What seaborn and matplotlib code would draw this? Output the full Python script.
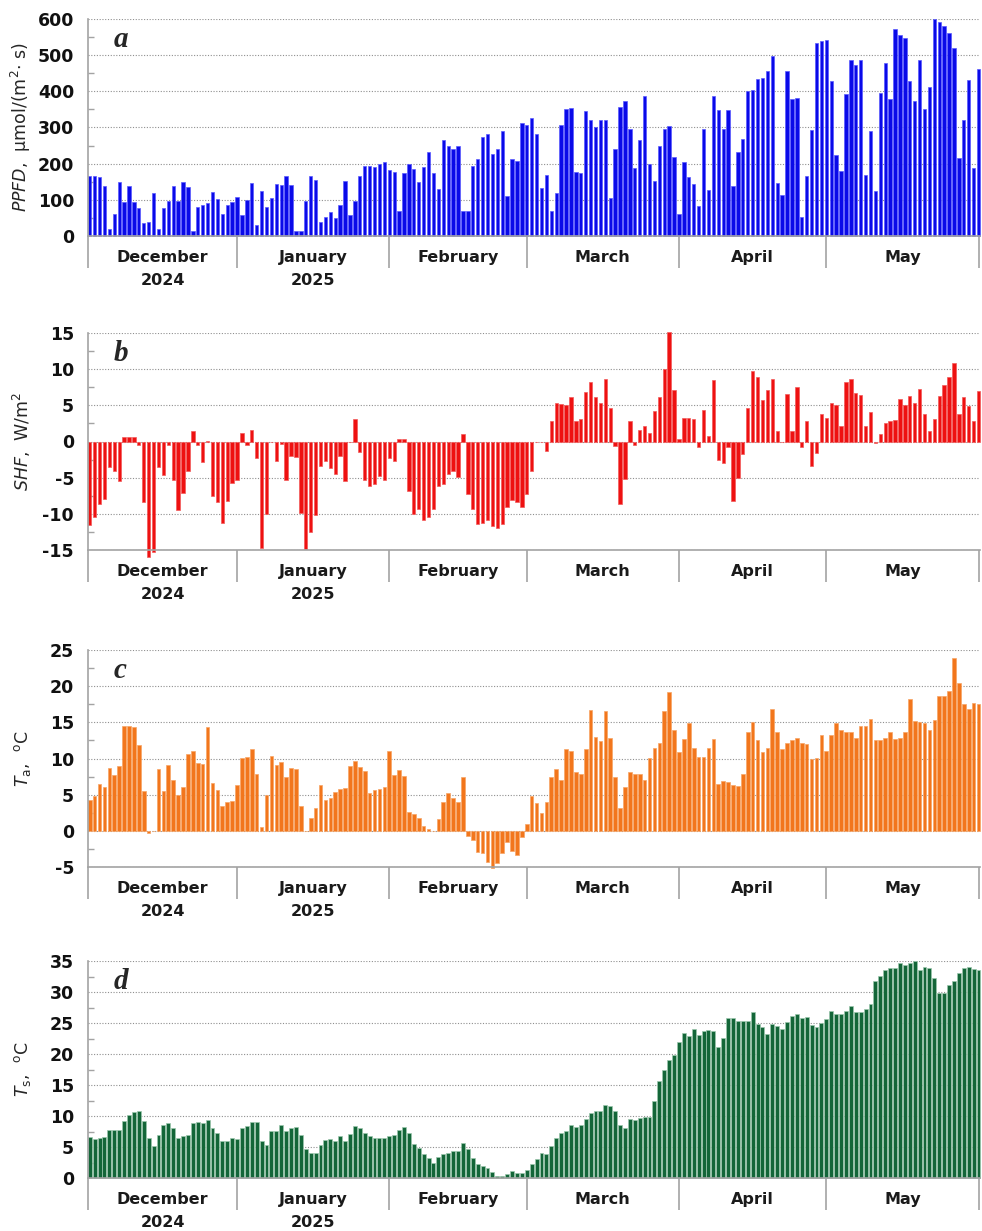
import numpy as np
import pandas as pd
import matplotlib
matplotlib.use("Agg")
import matplotlib.pyplot as plt
import matplotlib.transforms as mtrans
from matplotlib.ticker import MultipleLocator
import seaborn as sns

# ---------------- data (daily values, 1 Dec 2024 .. 31 May 2025) ----------------
months = ["December", "January", "February", "March", "April", "May"]
years = ["2024", "2025", "", "", "", ""]
month_days = [31, 31, 28, 31, 30, 31]

ppfd = [165, 167, 162, 137, 18, 61, 150, 95, 137, 95, 77, 35, 38, 120, 20, 77, 98, 137, 96, 150, 135, 15, 81, 87, 92, 121, 101, 62, 86, 93, 108,
        57, 100, 147, 30, 124, 81, 106, 143, 140, 165, 140, 15, 15, 96, 167, 155, 38, 53, 66, 50, 85, 151, 58, 96, 167, 193, 193, 190, 200, 205, 183,
        178, 68, 173, 200, 184, 150, 190, 232, 173, 130, 265, 248, 240, 250, 70, 68, 193, 213, 275, 283, 228, 240, 290, 110, 213, 208, 313, 307,
        325, 282, 133, 170, 70, 118, 307, 352, 353, 177, 175, 345, 321, 300, 322, 320, 105, 240, 358, 373, 295, 188, 265, 388, 198, 152, 250, 297, 305, 218, 62,
        205, 162, 143, 82, 295, 128, 386, 348, 297, 348, 137, 233, 268, 400, 405, 435, 437, 455, 497, 147, 113, 455, 378, 382, 52, 165, 292, 535, 538, 542,
        428, 225, 180, 392, 486, 473, 488, 170, 290, 125, 395, 477, 380, 572, 555, 548, 428, 372, 487, 352, 413, 600, 592, 582, 560, 520, 215, 320, 432, 187, 462]

shf = [-11.5, -10.4, -8.7, -7.9, -3.5, -4.1, -5.5, 0.6, 0.6, 0.6, -0.5, -8.3, -16.0, -15.3, -3.5, -4.6, -0.5, -5.3, -9.5, -7.1, -4.1, 1.5, -0.5, -2.8, 0.1, -7.6, -8.3, -11.3, -8.2, -5.8, -5.3,
       1.2, -0.5, 1.6, -2.3, -14.7, -10.0, 0.0, -2.7, -0.3, -5.3, -2.0, -2.2, -9.9, -14.8, -12.5, -10.1, -3.4, -2.7, -3.6, -4.5, -2.0, -5.5, 0.0, 3.1, -1.5, -5.3, -6.2, -5.9, -4.8, -5.3, -2.3,
       -2.7, 0.3, 0.3, -6.9, -10.0, -9.3, -10.8, -10.5, -9.4, -6.1, -5.9, -4.5, -4.1, -4.9, 1.0, -7.3, -9.4, -11.4, -11.2, -10.8, -11.7, -12.0, -11.4, -9.0, -8.1, -8.3, -9.0, -7.3,
       -4.1, 0.0, 0.0, -1.3, 2.8, 5.3, 5.2, 5.1, 6.2, 2.8, 3.1, 6.8, 8.2, 6.1, 5.3, 8.6, 4.6, -0.6, -8.7, -5.2, 2.9, -0.5, 1.6, 2.1, 1.2, 4.2, 6.1, 10.0, 15.1, 7.1, 0.3,
       3.3, 3.2, 3.1, -0.8, 4.3, 0.7, 8.5, -2.6, -3.0, -0.8, -8.2, -5.1, -1.7, 4.7, 9.7, 8.9, 5.7, 7.1, 8.6, 1.5, 0.0, 6.5, 1.5, 7.5, -0.8, 2.8, -3.4, -1.6, 3.8, 3.2,
       5.3, 5.0, 2.1, 8.2, 8.7, 6.7, 6.4, 2.2, 4.1, -0.2, 1.0, 2.6, 2.9, 3.0, 5.9, 5.0, 6.3, 5.3, 7.2, 3.8, 1.4, 3.1, 6.3, 7.8, 8.9, 10.8, 3.8, 6.1, 4.9, 2.9, 7.0]

ta = [4.2, 4.8, 6.5, 6.0, 8.7, 7.7, 9.0, 14.5, 14.5, 14.3, 11.9, 5.5, -0.3, 0.0, 8.6, 5.5, 9.1, 7.0, 4.9, 6.1, 10.6, 11.0, 9.4, 9.2, 14.3, 6.6, 5.6, 3.4, 4.0, 4.1, 6.4,
      10.1, 10.2, 11.3, 7.8, 0.5, 4.9, 10.3, 9.1, 9.5, 7.5, 8.7, 8.5, 3.4, 0.0, 1.8, 3.2, 6.4, 4.2, 4.6, 5.3, 5.8, 5.9, 9.0, 9.7, 8.8, 8.3, 5.2, 5.6, 5.8, 6.0, 11.0,
      7.7, 8.4, 7.6, 2.6, 2.3, 1.8, 0.6, 0.3, 0.0, 1.7, 4.0, 5.2, 4.5, 4.0, 7.4, -0.7, -1.2, -2.9, -3.1, -4.3, -5.2, -4.5, -3.1, -1.6, -2.8, -3.4, -0.8, 0.9,
      4.8, 3.9, 2.4, 4.0, 7.5, 8.5, 7.0, 11.3, 11.1, 8.2, 7.8, 11.3, 16.7, 13.0, 12.4, 16.6, 12.9, 7.4, 3.2, 6.0, 8.1, 7.8, 7.8, 7.0, 10.1, 11.5, 12.1, 16.5, 19.2, 14.0, 10.9,
      12.7, 14.9, 11.5, 10.2, 10.2, 11.4, 12.7, 6.5, 6.9, 6.8, 6.4, 6.2, 7.9, 13.7, 15.1, 12.6, 10.9, 11.5, 16.9, 13.6, 11.3, 12.2, 12.6, 12.8, 12.2, 12.0, 10.0, 10.1, 13.3, 11.1,
      13.3, 14.9, 13.9, 13.6, 13.6, 12.9, 14.5, 14.5, 15.5, 12.6, 12.6, 12.8, 13.6, 12.7, 12.8, 13.6, 18.2, 15.2, 15.0, 14.9, 13.9, 15.3, 18.6, 18.6, 19.4, 23.9, 20.5, 17.6, 16.9, 17.7, 17.6]

ts = [6.6, 6.3, 6.5, 6.6, 7.7, 7.8, 7.7, 9.2, 10.2, 10.6, 10.8, 9.2, 6.5, 5.2, 6.9, 8.5, 8.8, 8.1, 6.5, 6.7, 7.0, 8.8, 9.0, 8.8, 9.4, 8.1, 7.3, 6.0, 5.9, 6.5, 6.3,
      8.1, 8.4, 9.1, 9.0, 5.9, 5.4, 7.6, 7.6, 8.5, 7.6, 8.1, 8.2, 6.9, 4.6, 4.1, 4.1, 5.3, 6.2, 6.3, 6.0, 6.7, 6.0, 7.1, 8.4, 8.1, 7.3, 6.7, 6.5, 6.4, 6.4, 6.7,
      7.0, 7.8, 8.3, 7.2, 5.5, 4.9, 3.9, 3.3, 2.5, 3.4, 3.8, 4.0, 4.3, 4.3, 5.7, 4.6, 3.3, 2.3, 1.9, 1.6, 0.9, 0.4, 0.3, 0.6, 1.1, 0.8, 0.8, 1.3,
      2.2, 3.1, 4.1, 3.8, 5.2, 6.5, 7.3, 7.6, 8.5, 8.3, 8.6, 9.5, 10.5, 10.8, 10.8, 11.7, 11.6, 10.8, 8.6, 8.1, 9.5, 9.4, 9.7, 9.9, 9.8, 12.4, 15.6, 17.5, 19.0, 19.9, 21.9,
      23.4, 22.9, 24.0, 23.1, 23.7, 23.9, 23.7, 21.1, 22.6, 25.8, 25.8, 25.4, 25.4, 25.3, 26.7, 24.9, 24.4, 23.3, 24.9, 24.5, 24.0, 25.2, 26.1, 26.4, 25.8, 25.9, 24.7, 24.4, 25.0, 25.7,
      26.9, 26.4, 26.5, 26.9, 27.7, 26.7, 26.8, 27.2, 28.1, 31.8, 32.6, 33.5, 33.9, 33.8, 34.6, 34.3, 34.6, 35.0, 33.6, 34.0, 33.9, 32.3, 29.9, 29.9, 31.2, 31.7, 33.1, 33.8, 34.1, 33.7, 33.5]

# ---------------- styling ----------------
sns.set_style("white")
plt.rcParams["font.family"] = ["DejaVu Sans"]
plt.rcParams["axes.unicode_minus"] = False

W, H = 982, 1231
fig = plt.figure(figsize=(W / 100, H / 100), dpi=100)

ax_left, ax_right = 88, 980
panels = [
    dict(vals=ppfd, top=19, bot=236, lim=(0, 600), step=100, color="#0a0ae8", edge="#5a5aff", width=0.68,
         letter="a", label=r"$\mathit{PPFD}$,  μmol/(m$^2$$\cdot$ s)"),
    dict(vals=shf, top=333, bot=550, lim=(-15, 15), step=5, color="#ee1111", edge="#f25a5a", width=0.68,
         letter="b", label=r"$\mathit{SHF}$,  W/m$^2$"),
    dict(vals=ta, top=650, bot=867, lim=(-5, 25), step=5, color="#f2761c", edge="#f7a566", width=0.74,
         letter="c", label=r"$\mathit{T}_\mathrm{a}$,  $^\mathrm{o}$C"),
    dict(vals=ts, top=961, bot=1178, lim=(0, 35), step=5, color="#136638", edge="#9cc7ad", width=0.80,
         letter="d", label=r"$\mathit{T}_\mathrm{s}$,  $^\mathrm{o}$C"),
]

n = len(ppfd)
cum = np.cumsum(month_days)
seps = [-0.35] + [c - 1 for c in cum]          # separators at last day of each month
centers = [(seps[i] + seps[i + 1]) / 2 for i in range(len(months))]
axis_gray = "#a3a3a3"

for p in panels:
    ax = fig.add_axes([ax_left / W, 1 - p["bot"] / H, (ax_right - ax_left) / W, (p["bot"] - p["top"]) / H])
    df = pd.DataFrame({"day": np.arange(n), "val": p["vals"]})
    sns.barplot(data=df, x="day", y="val", ax=ax, color=p["color"], saturation=1,
                width=p["width"], edgecolor=p["edge"], linewidth=0.5, errorbar=None)
    for patch in ax.patches:
        patch.set_clip_on(False)
    ax.set_xlim(-0.35, 181.3)
    lo, hi = p["lim"]
    ax.set_ylim(lo, hi)
    ticks = np.arange(lo, hi + 0.1, p["step"])
    ax.set_yticks(ticks)
    ax.set_yticklabels([str(int(t)) for t in ticks], fontweight="bold", fontsize=12.5, color="#111111")
    ax.yaxis.set_minor_locator(MultipleLocator(p["step"] / 2))
    ax.tick_params(axis="y", which="major", left=True, length=0, pad=10)
    ax.tick_params(axis="y", which="minor", left=True, direction="in", length=4, width=1, color=axis_gray)
    ax.grid(axis="y", which="major", linestyle=(0, (1, 1.5)), color="#8f8f8f", linewidth=0.8)
    ax.grid(axis="x", visible=False)
    ax.set_axisbelow(True)
    for s in ["top", "right"]:
        ax.spines[s].set_visible(False)
    for s in ["left", "bottom"]:
        ax.spines[s].set_color(axis_gray)
        ax.spines[s].set_linewidth(1.2)
    ax.set_xticks(seps)
    ax.set_xticklabels([])
    ax.tick_params(axis="x", which="major", bottom=True, length=23, width=1.2, color=axis_gray, direction="out")
    ax.tick_params(axis="x", which="minor", bottom=False)
    ax.set_xlabel("")
    ax.set_ylabel(p["label"], fontsize=12.5)
    ax.yaxis.set_label_coords(-0.062, 0.5)

    tr = mtrans.blended_transform_factory(ax.transData, ax.transAxes)
    for c, m, y in zip(centers, months, years):
        ax.text(c, -0.097, m, transform=tr, ha="center", va="center", fontsize=11.5,
                fontweight="bold", color="#1a1a1a")
        if y:
            ax.text(c, -0.207, y, transform=tr, ha="center", va="center", fontsize=11.5,
                    fontweight="bold", color="#1a1a1a")
    ax.text(0.029, 0.905, p["letter"], transform=ax.transAxes, ha="left", va="center",
            fontsize=21, fontweight="bold", fontstyle="italic", family=["Liberation Serif"])

fig.savefig("out.png", dpi=100)
